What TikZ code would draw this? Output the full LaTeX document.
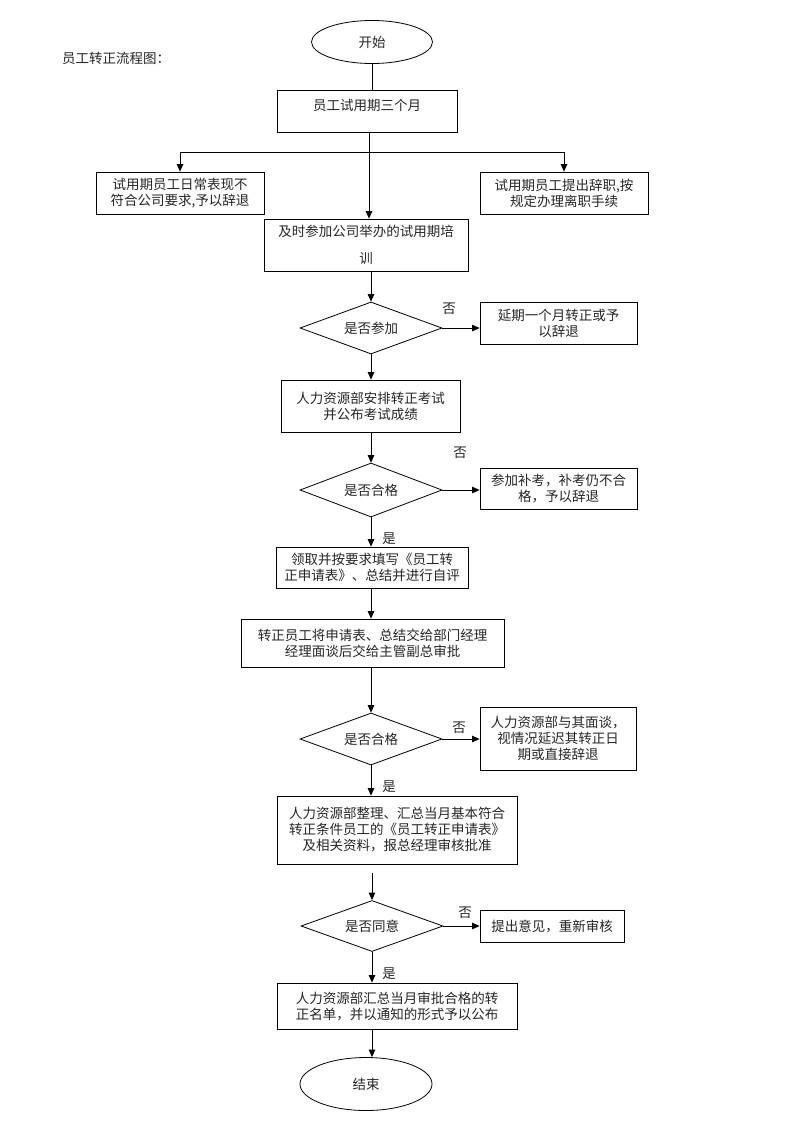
\documentclass[tikz,border=0pt]{standalone}
\usepackage{fontspec}
\newfontfamily\cjk{Noto Sans CJK SC}
\usetikzlibrary{shapes.geometric,arrows.meta}
\tikzset{
  every node/.style={font=\cjk\fontsize{13.5}{16}\selectfont, text=black!85},
  box/.style={draw, rectangle, inner sep=0pt, align=center, line width=0.8pt},
  dec/.style={draw, diamond, inner sep=0pt, line width=0.8pt, minimum width=142, minimum height=52, aspect=2.7},
  term/.style={draw, ellipse, inner sep=0pt, line width=0.8pt},
  conn/.style={line width=0.8pt},
  arr/.style={line width=0.8pt, -{Triangle[width=6.5pt,length=7.5pt]}},
  lbl/.style={inner sep=0pt}
}
\begin{document}
\begin{tikzpicture}[x=1pt,y=-1pt]
\useasboundingbox[fill=white] (0,0) rectangle (793,1122);

\node[lbl, anchor=west] (title) at (62,58) {员工转正流程图：};

\node[term, minimum width=121, minimum height=43] (start) at (372,42) {开始};
\node[box, minimum width=180, minimum height=42, text height=12pt, text depth=14pt] (b1) at (367,111) {员工试用期三个月};
\node[box, minimum width=168, minimum height=42] (bl) at (180,193) {试用期员工日常表现不\\符合公司要求,予以辞退};
\node[box, minimum width=168, minimum height=42] (br) at (564,193) {试用期员工提出辞职,按\\规定办理离职手续};
\node[box, minimum width=204, minimum height=52] (train) at (366,245) {及时参加公司举办的试用期培\\[11pt]训};

\node[dec] (d1) at (371,328) {是否参加};
\node[box, minimum width=157, minimum height=42] (r1) at (558.5,323) {延期一个月转正或予\\以辞退};
\node[box, minimum width=179, minimum height=52] (exam) at (370.5,406) {人力资源部安排转正考试\\并公布考试成绩};

\node[dec, minimum height=54] (d2) at (371,490) {是否合格};
\node[box, minimum width=157, minimum height=41] (r2) at (558.5,488.5) {参加补考，补考仍不合\\格，予以辞退};

\node[box, minimum width=192, minimum height=41] (fill) at (372,567.5) {领取并按要求填写《员工转\\正申请表》、总结并进行自评};
\node[box, minimum width=263, minimum height=48] (submit) at (372.5,643) {转正员工将申请表、总结交给部门经理\\经理面谈后交给主管副总审批};

\node[dec] (d3) at (371,739) {是否合格};
\node[box, minimum width=156, minimum height=63] (r3) at (558,738.5) {人力资源部与其面谈，\\视情况延迟其转正日\\期或直接辞退};

\node[box, minimum width=240, minimum height=68] (hr) at (397,830) {人力资源部整理、汇总当月基本符合\\转正条件员工的《员工转正申请表》\\及相关资料，报总经理审核批准};

\node[dec, minimum height=51] (d4) at (372,926) {是否同意};
\node[box, minimum width=144, minimum height=32] (r4) at (552,926) {提出意见，重新审核};

\node[box, minimum width=240, minimum height=46] (final) at (397,1006) {人力资源部汇总当月审批合格的转\\正名单，并以通知的形式予以公布};

\node[term, minimum width=132, minimum height=53] (end) at (366,1084) {结束};

% labels
\node[lbl] (n1) at (449,309) {否};
\node[lbl] (n2) at (460,453) {否};
\node[lbl] (y2) at (389,539) {是};
\node[lbl] (n3) at (459,728) {否};
\node[lbl] (y3) at (389,787) {是};
\node[lbl] (n4) at (465,913) {否};
\node[lbl] (y4) at (389,974) {是};

% connectors
\draw[conn] (start.south) -- (start.south |- b1.north);
\draw[arr] (b1.south -| 369,0) -- (train.north -| 369,0);
\coordinate (hl) at (181,152);
\draw[conn] (bl.north |- hl) -- (br.north |- hl);
\draw[arr] (bl.north |- hl) -- (bl.north);
\draw[arr] (br.north |- hl) -- (br.north);
\draw[arr] (train.south -| d1.north) -- (d1.north);
\draw[arr] (d1.east) -- (d1.east -| r1.west);
\draw[arr] (d1.south) -- (d1.south |- exam.north);
\draw[arr] (exam.south -| d2.north) -- (d2.north);
\draw[arr] (d2.east) -- (d2.east -| r2.west);
\draw[arr] (d2.south) -- (d2.south |- fill.north);
\draw[arr] (fill.south -| d2.south) -- (d2.south |- submit.north);
\draw[arr] (submit.south -| d3.north) -- (d3.north);
\draw[arr] (d3.east) -- (d3.east -| r3.west);
\draw[arr] (d3.south) -- (d3.south |- hr.north);
\draw[arr] ([yshift=-9pt]hr.south -| d4.north) -- (d4.north);
\draw[arr] (d4.east) -- (d4.east -| r4.west);
\draw[arr] (d4.south) -- (d4.south |- final.north);
\draw[arr] (final.south -| d4.south) -- (d4.south |- end.north);
\end{tikzpicture}
\end{document}
